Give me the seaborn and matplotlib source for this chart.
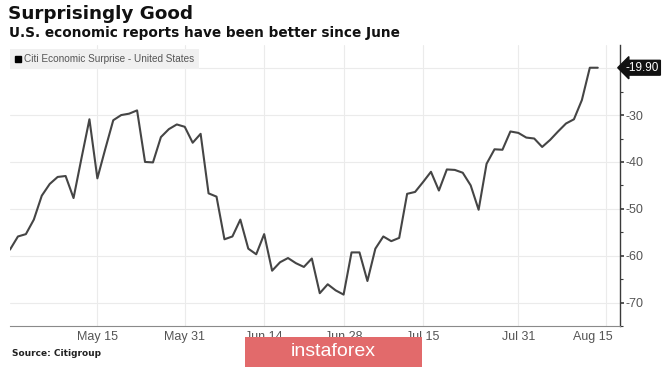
import matplotlib.pyplot as plt
import matplotlib.transforms as mtransforms
import numpy as np
import pandas as pd
import seaborn as sns
from matplotlib.lines import Line2D
from matplotlib.patches import Rectangle

# US trading days, Apr 30 - Aug 14 2019 (Memorial Day and July 4 left out)
days = pd.bdate_range('2019-04-30', '2019-08-14')
days = days[~days.isin(pd.to_datetime(['2019-05-27', '2019-07-04']))]

surprise = [
    -58.7, -55.9, -55.4, -52.3, -47.2, -44.7, -43.2, -43.0, -47.7, -39.2,
    -30.9, -43.5, -37.2, -31.1, -30.0, -29.7, -29.0, -40.0, -40.1, -34.7,
    -33.0, -32.0, -32.5, -35.9, -34.0, -46.7, -47.4, -56.5, -55.9, -52.3,
    -58.5, -59.7, -55.4, -63.2, -61.4, -60.5, -61.6, -62.4, -60.6, -68.0,
    -66.1, -67.4, -68.3, -59.3, -59.3, -65.4, -58.5, -55.9, -56.9, -56.2,
    -46.8, -46.4, -44.3, -42.1, -46.1, -41.6, -41.7, -42.3, -45.0, -50.2,
    -40.4, -37.3, -37.4, -33.5, -33.8, -34.8, -35.0, -36.8, -35.3, -33.5,
    -31.8, -30.9, -26.8, -19.9, -19.9,
]

tick_dates = ['2019-05-15', '2019-05-31', '2019-06-14', '2019-06-28',
              '2019-07-15', '2019-07-31', '2019-08-15']
tick_labels = ['May 15', 'May 31', 'Jun 14', 'Jun 28', 'Jul 15', 'Jul 31', 'Aug 15']
y_ticks = [-70, -60, -50, -40, -30, -20]

series_name = 'Citi Economic Surprise - United States'
title = 'Surprisingly Good'
subtitle = 'U.S. economic reports have been better since June'
source = 'Source: Citigroup'

data = pd.DataFrame({'pos': np.arange(len(days)), 'value': surprise})
tick_pos = days.searchsorted(pd.to_datetime(tick_dates))

sns.set_style('white')
small = ['Liberation Sans', 'DejaVu Sans']

fig = plt.figure(figsize=(6.65, 3.68), dpi=100)
ax = fig.add_axes([10 / 665, 42 / 368, 610 / 665, 281 / 368])

sns.lineplot(data=data, x='pos', y='value', color='#454545', lw=1.5, ax=ax)

ax.set_xlim(0, 76.8)
ax.set_ylim(-73.15, -15.05)
ax.set(xlabel='', ylabel='')

# axes look
for side in ['left', 'top']:
    ax.spines[side].set_visible(False)
ax.spines['right'].set_color('#3a3a3a')
ax.spines['right'].set_linewidth(1.0)
ax.spines['bottom'].set_color('#8a8a8a')
ax.spines['bottom'].set_linewidth(0.8)

ax.yaxis.tick_right()
ax.set_yticks(y_ticks)
ax.set_yticklabels([str(v) if v != -20 else '' for v in y_ticks], family=small)
ax.set_yticks(np.arange(-75, -15, 10), minor=True)
ax.tick_params(axis='y', which='major', direction='out', length=3, width=1.2,
               color='#3a3a3a', labelcolor='#555555', labelsize=9, pad=1)
ax.tick_params(axis='y', which='minor', direction='out', length=2, width=0.8, color='#3a3a3a')

ax.set_xticks(tick_pos)
ax.set_xticklabels(tick_labels, family=small)
minor_x = np.concatenate([[0], (tick_pos[:-1] + tick_pos[1:]) / 2, [tick_pos[0] / 2]])
ax.set_xticks(minor_x, minor=True)
ax.tick_params(axis='x', which='both', direction='inout', length=3, width=0.8,
               color='#8a8a8a', labelcolor='#555555', labelsize=9, pad=2)
# last label sits a little left of its tick
shift = mtransforms.ScaledTranslation(-13 / 100, 0, fig.dpi_scale_trans)
last = ax.get_xticklabels()[-1]
last.set_transform(last.get_transform() + shift)

ax.grid(True, which='major', color='#ebebeb', lw=0.8)

# legend
handle = Line2D([], [], marker='s', color='black', linestyle='none', markersize=4.5)
leg = ax.legend([handle], [series_name], loc='upper left', bbox_to_anchor=(0, 0.985),
                borderaxespad=0, frameon=True, fancybox=False, handlelength=0.6,
                handletextpad=0.3, borderpad=0.5, prop={'family': small, 'size': 7.2})
leg.get_frame().set_facecolor('#f0f0f0')
leg.get_frame().set_edgecolor('none')
leg.get_frame().set_alpha(1)
for t in leg.get_texts():
    t.set_color('#555555')

# last value tag
ax.annotate(f'{surprise[-1]:.2f}', xy=(1, surprise[-1]), xycoords=('axes fraction', 'data'),
            xytext=(4, 0), textcoords='offset points', ha='left', va='center',
            color='white', fontsize=8.5, family=small,
            bbox=dict(boxstyle='larrow,pad=0.12', fc='#111111', ec='#111111'),
            annotation_clip=False)

# titles and source
fig.text(8 / 665, 1 - 5 / 368, title, fontsize=13.2, fontweight='bold', color='#111111',
         va='top', ha='left')
fig.text(9 / 665, 1 - 26 / 368, subtitle, fontsize=9.8, fontweight='bold', color='#111111',
         va='top', ha='left')
fig.text(12 / 665, 1 - 354 / 368, source, fontsize=6.5, fontweight='bold', color='#222222',
         va='center', ha='left')

# watermark
fig.patches.append(Rectangle((245 / 665, 1 - 367 / 368), 177 / 665, 30 / 368,
                             transform=fig.transFigure, fc='#e26a6b', ec='none', zorder=5))
fig.text(333 / 665, 1 - 352 / 368, 'instaforex', fontsize=14, color='white',
         family=small, ha='center', va='center', zorder=6)

fig.savefig('out.png', dpi=100)
